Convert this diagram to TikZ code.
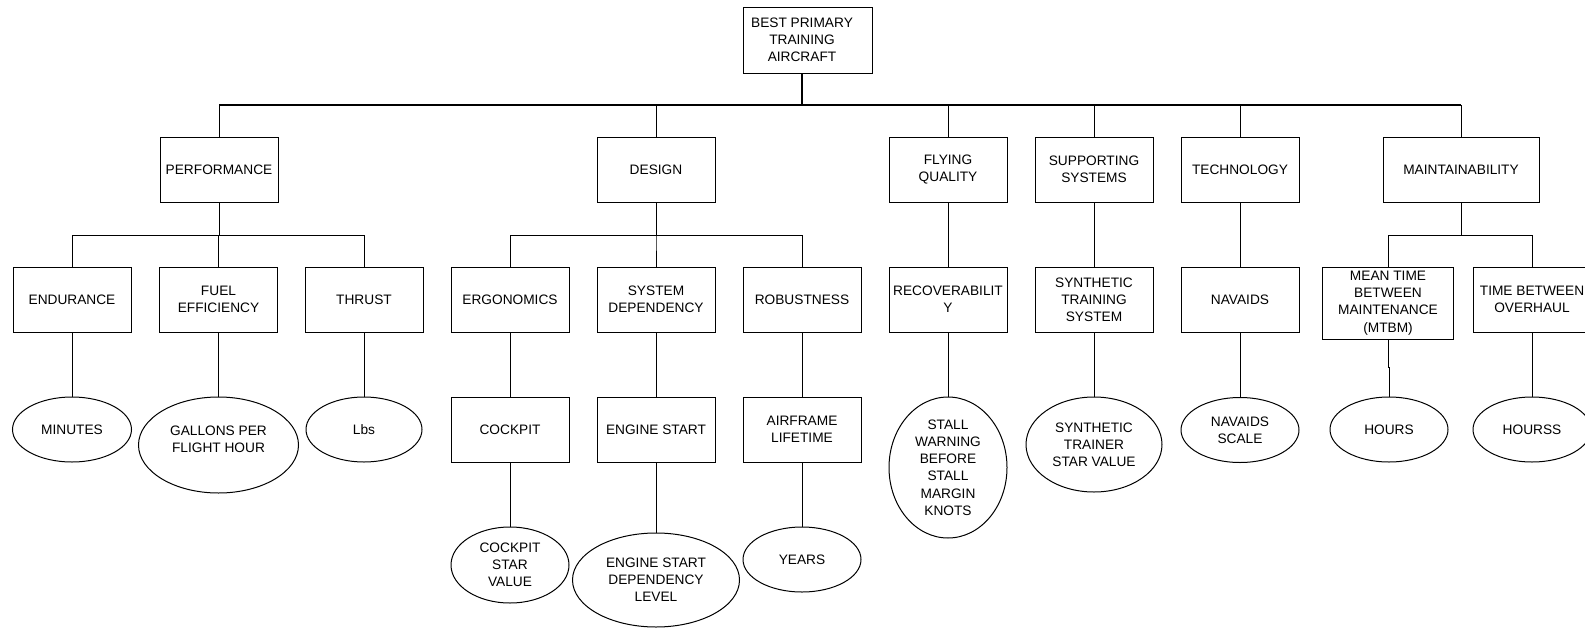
\documentclass[tikz,border=0pt]{standalone}
\usepackage{fontspec}
\setmainfont{Liberation Sans}
\usetikzlibrary{shapes.geometric}

\tikzset{
  every node/.style={font=\fontsize{13.7}{17.2}\selectfont, align=center, inner sep=0pt},
  box/.style={draw, line width=1pt, rectangle, minimum width=118pt, minimum height=65pt},
  oval/.style={draw, line width=1pt, ellipse, minimum width=118pt, minimum height=65pt},
  link/.style={draw, line width=1pt},
  bus/.style={draw, line width=1.9pt},
}

\begin{document}
\begin{tikzpicture}[x=1pt, y=-1pt]
\useasboundingbox (0,0) rectangle (1585,629);
\clip (0,0) rectangle (1585,629);

% top goal: the frame sits a little to the right of its text
\node[box, minimum width=129pt, minimum height=66pt] (rootbox) at (807.5,40) {};
\node (root) at (802,40) {BEST PRIMARY\\TRAINING\\AIRCRAFT};

% criteria
\node[box] (perf)   at (219,169.5)  {PERFORMANCE};
\node[box] (design) at (656,169.5)  {DESIGN};
\node[box] (flying) at (948,169.5)  {FLYING\\QUALITY};
\node[box] (supp)   at (1094,169.5) {SUPPORTING\\SYSTEMS};
\node[box] (tech)   at (1240,169.5) {TECHNOLOGY};
\node[box, minimum width=156pt] (maint) at (1461,169.5) {MAINTAINABILITY};

% sub-criteria
\node[box] (endur)   at (72,299.5)   {ENDURANCE};
\node[box] (fuel)    at (218.5,299.5) {FUEL\\EFFICIENCY};
\node[box] (thrust)  at (364,299.5)  {THRUST};
\node[box] (ergo)    at (510,299.5)  {ERGONOMICS};
\node[box] (sysdep)  at (656,299.5)  {SYSTEM\\DEPENDENCY};
\node[box] (robust)  at (802,299.5)  {ROBUSTNESS};
\node[box] (recov)   at (948,299.5)  {RECOVERABILIT\\Y};
\node[box] (synt)    at (1094,299.5) {SYNTHETIC\\TRAINING\\SYSTEM};
\node[box] (navaids) at (1240,299.5) {NAVAIDS};
\node[box, minimum width=131pt, minimum height=72pt] (mtbm) at (1388,303) {MEAN TIME\\BETWEEN\\MAINTENANCE\\(MTBM)};
\node[box] (tbo)     at (1532,299.5) {TIME BETWEEN\\OVERHAUL};

% third level
\node[oval, minimum width=119pt] (minutes) at (72,429.5) {MINUTES};
\node[oval, minimum width=160pt, minimum height=96pt] (gallons) at (218.5,445) {};
\node (gallonstext) at (218.5,439) {GALLONS PER\\FLIGHT HOUR};
\node[oval, minimum width=116pt] (lbs) at (364,429.5) {Lbs};
\node[box] (cockpit)  at (510,429.5) {COCKPIT};
\node[box] (engine)   at (656,429.5) {ENGINE START};
\node[box] (airframe) at (802,429.5) {AIRFRAME\\LIFETIME};
\node[oval, minimum height=141pt] (stall) at (948,467.5) {STALL\\WARNING\\BEFORE\\STALL\\MARGIN\\KNOTS};
\node[oval, minimum width=136pt, minimum height=95pt] (trainer) at (1094,444.5) {SYNTHETIC\\TRAINER\\STAR VALUE};
\node[oval] (navscale) at (1240,430) {NAVAIDS\\SCALE};
\node[oval] (hours)  at (1389,429.5) {HOURS};
\node[oval] (hourss) at (1532,429.5) {HOURSS};

% fourth level
\node[oval, minimum height=76pt] (cockstar) at (510,565) {COCKPIT\\STAR\\VALUE};
\node[oval, minimum width=167pt, minimum height=94pt] (enginedep) at (656,580) {ENGINE START\\DEPENDENCY\\LEVEL};
\node[oval] (years) at (802,559.5) {YEARS};

% main bus
\coordinate (rootjoin) at (802,105);
\coordinate (lvl2) at (0,235);
\draw[bus] (rootjoin |- rootbox.south) -- (rootjoin);
\draw[bus] (perf.north |- rootjoin) -- (maint.north |- rootjoin);
\foreach \n in {perf,design,flying,supp,tech,maint}
  \draw[link] (\n.north |- rootjoin) -- (\n.north);

% branching to sub-criteria
\foreach \p/\c in {perf/endur,perf/fuel,perf/thrust,design/ergo,design/sysdep,design/robust,maint/mtbm,maint/tbo}
  \draw[link] (\p.south) -- (\p.south |- lvl2) -| (\c.north);
\foreach \p/\c in {flying/recov,supp/synt,tech/navaids}
  \draw[link] (\p.south) -- (\c.north);

% lower chains
\foreach \p/\c in {endur/minutes,fuel/gallons,thrust/lbs,ergo/cockpit,sysdep/engine,robust/airframe,recov/stall,synt/trainer,navaids/navscale,tbo/hourss,cockpit/cockstar,engine/enginedep,airframe/years}
  \draw[link] (\p.south) -- (\c.north);
\coordinate (mtbmjog) at (1388,367);
\draw[link] (mtbm.south) -- (mtbmjog) -- (mtbmjog -| hours.north) -- (hours.north);

\end{tikzpicture}
\end{document}
